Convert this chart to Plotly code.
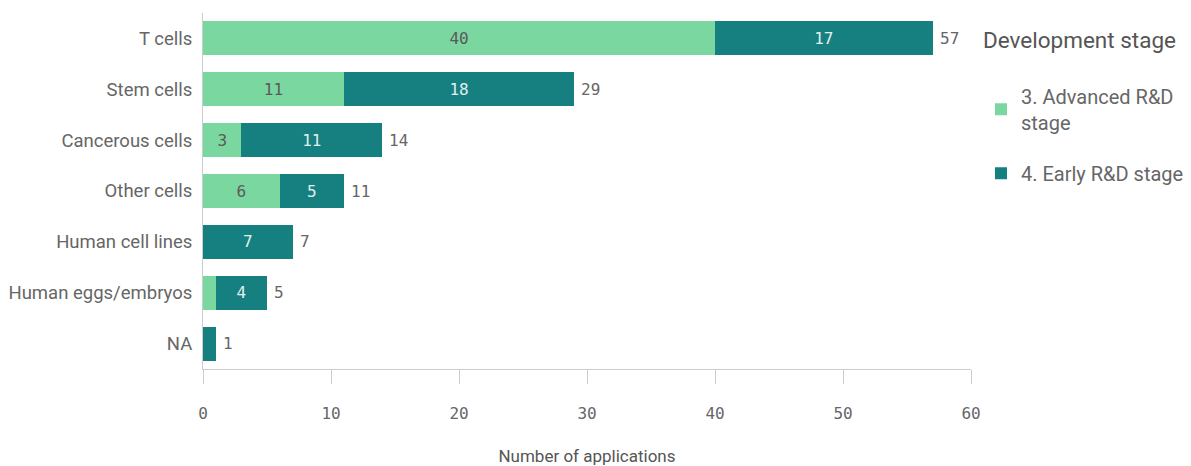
import plotly.graph_objects as go

categories = ["T cells", "Stem cells", "Cancerous cells", "Other cells",
              "Human cell lines", "Human eggs/embryos", "NA"]
advanced = [40, 11, 3, 6, 0, 1, 0]
early = [17, 18, 11, 5, 7, 4, 1]
series_names = ["3. Advanced R&D<br>stage", "4. Early R&D stage"]
x_ticks = [0, 10, 20, 30, 40, 50, 60]

totals = [a + e for a, e in zip(advanced, early)]
GREEN = "#7ad7a0"
TEAL = "#167f80"
GRAY = "#666666"
MONO = "DejaVu Sans Mono"
SANS = "Roboto, Liberation Sans Narrow, sans-serif"


def lbl(vals):
    return [str(v) if v > 1 else "" for v in vals]


fig = go.Figure()
fig.add_trace(go.Bar(
    y=categories, x=advanced, orientation="h", name=series_names[0],
    legendgroup="a",
    marker=dict(color=GREEN, line=dict(width=0)),
    text=lbl(advanced), textposition="inside", insidetextanchor="middle",
    textfont=dict(family=MONO, size=16, color="#5a5a5a"), hoverinfo="skip",
))
fig.add_trace(go.Bar(
    y=categories, x=early, orientation="h", name=series_names[1],
    legendgroup="b",
    marker=dict(color=TEAL, line=dict(width=0)),
    text=lbl(early), textposition="inside", insidetextanchor="middle",
    textfont=dict(family=MONO, size=16, color="#e0efed"), hoverinfo="skip",
))

for cat, tot in zip(categories, totals):
    fig.add_annotation(
        x=tot, y=cat, text=str(tot), showarrow=False,
        xanchor="left", xshift=5,
        font=dict(family=MONO, size=16, color=GRAY),
    )

# page body has an 8px margin, so the figure is sized to fit the window
fig.update_layout(
    width=1183, height=458,
    margin=dict(l=195, r=220, t=5, b=97, autoexpand=False),
    barmode="stack", bargap=0.33,
    plot_bgcolor="white", paper_bgcolor="white",
    font=dict(family=SANS, color=GRAY),
    legend=dict(
        title=dict(text="Development stage<br> ", font=dict(size=22.5, color="#555555", family=SANS)),
        font=dict(size=20, color=GRAY, family=SANS),
        x=1.013, xanchor="left", y=0.985, yanchor="top",
        traceorder="grouped", itemsizing="constant", tracegroupgap=22,
        itemwidth=30, valign="middle",
    ),
    xaxis=dict(
        range=[0, 60], tickvals=x_ticks, ticktext=[str(t) for t in x_ticks],
        showgrid=False, zeroline=False, automargin=False,
        showline=True, linecolor="#cccccc", linewidth=1,
        ticks="outside", ticklen=14, tickcolor="#cccccc",
        ticklabelstandoff=16,
        tickfont=dict(family=MONO, size=16, color=GRAY),
        title=dict(text="Number of applications", font=dict(size=17, color="#555555", family=SANS), standoff=28),
    ),
    yaxis=dict(
        autorange="reversed", showgrid=False, zeroline=False, automargin=False,
        showline=True, linecolor="#cccccc", linewidth=1,
        ticks="", ticklabelstandoff=6,
        tickfont=dict(size=18.5, color=GRAY, family=SANS),
    ),
)

fig.write_html("out.html")
